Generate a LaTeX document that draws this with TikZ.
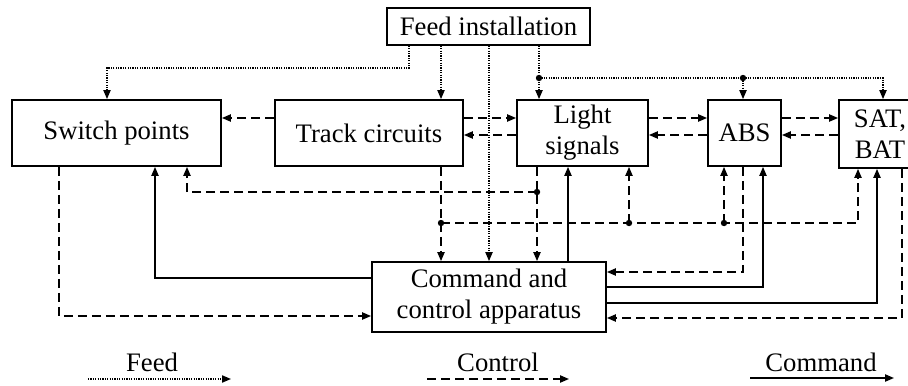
\documentclass[tikz,border=0pt]{standalone}
\usepackage{fontspec}
\setmainfont{Liberation Serif}
\usetikzlibrary{arrows.meta}
\begin{document}
\begin{tikzpicture}[x=0.5pt,y=-0.5pt,
  >={Triangle[length=4.5pt,width=3.6pt]},
  box/.style={draw,line width=0.9pt,inner sep=0pt,align=center,
    font=\fontsize{13.35}{15.5}\selectfont},
  lbl/.style={inner sep=0pt,font=\fontsize{13.35}{15.5}\selectfont},
  feedl/.style={line width=0.7pt,dash pattern=on 0.6pt off 0.6pt,->},
  ctl/.style={line width=0.8pt,dash pattern=on 4.5pt off 2.5pt,->},
  cmdl/.style={line width=0.8pt,->},
  dot/.style={circle,fill,inner sep=0pt,minimum size=3.2pt}]
\clip (0,0) rectangle (908,385);
% boxes
\node[box,minimum width=101.5pt,minimum height=18.5pt] (feed) at (488.5,26.5) {Feed installation};
\node[box,minimum width=104.5pt,minimum height=33pt] (sw) at (116.5,133) {Switch points};
\node[box,minimum width=94pt,minimum height=33pt] (tc) at (369,133) {Track circuits};
\node[box,minimum width=65.5pt,minimum height=33pt] (ls) at (582.5,133) {Light\\signals};
\node[box,minimum width=36.5pt,minimum height=33pt] (abs) at (744.5,133) {ABS};
\node[box,minimum width=41pt,minimum height=34pt] (sat) at (880,134) {SAT,\\BAT};
\node[box,minimum width=117pt,minimum height=35pt] (cmd) at (489,297) {Command and\\control apparatus};
% helper coordinates
\coordinate (fa1) at (409,68);
\coordinate (fa2) at (107,68);
\coordinate (fx) at (489,200);
\coordinate (d1) at (441,223);
\coordinate (d2) at (539,78);
\coordinate (d3) at (743,78);
\coordinate (fa3) at (883,78);
\coordinate (r1) at (0,118);
\coordinate (r2) at (0,135);
\coordinate (c1) at (59,316);
\coordinate (c2) at (155,278);
\coordinate (c3) at (187,192);
\coordinate (d4) at (537,192);
\coordinate (d5) at (629,223);
\coordinate (d6) at (724,223);
\coordinate (c4) at (858,223);
\coordinate (c5) at (568,200);
\coordinate (c6) at (743,272);
\coordinate (c7) at (763,287);
\coordinate (c8) at (877,303);
\coordinate (c9) at (902,318);
% feed lines
\draw[feedl] (feed.south -| fa1) -- (fa1) -- (fa2) -- (sw.north -| fa2);
\draw[feedl] (feed.south -| d1) -- (tc.north -| d1);
\draw[feedl] (feed.south -| fx) -- (cmd.north -| fx);
\draw[feedl] (feed.south -| d2) -- (ls.north -| d2);
\draw[feedl] (d2) -- (d3) -- (fa3) -- (sat.north -| fa3);
\draw[feedl] (d3) -- (abs.north -| d3);
% control between boxes
\draw[ctl] (tc.west |- r1) -- (sw.east |- r1);
\draw[ctl] (tc.east |- r1) -- (ls.west |- r1);
\draw[ctl] (ls.west |- r2) -- (tc.east |- r2);
\draw[ctl] (ls.east |- r1) -- (abs.west |- r1);
\draw[ctl] (abs.west |- r2) -- (ls.east |- r2);
\draw[ctl] (abs.east |- r1) -- (sat.west |- r1);
\draw[ctl] (sat.west |- r2) -- (abs.east |- r2);
% lower connections
\draw[ctl] (sw.south -| c1) -- (c1) -- (cmd.west |- c1);
\draw[cmdl] (cmd.west |- c2) -- (c2) -- (sw.south -| c2);
\draw[ctl] (ls.south -| d4) -- (cmd.north -| d4);
\draw[ctl] (d4) -- (c3) -- (sw.south -| c3);
\draw[ctl] (tc.south -| d1) -- (cmd.north -| d1);
\draw[ctl] (d1) -- (d5) -- (d6) -- (c4) -- (sat.south -| c4);
\draw[ctl] (d5) -- (ls.south -| d5);
\draw[ctl] (d6) -- (abs.south -| d6);
\draw[cmdl] (cmd.north -| c5) -- (ls.south -| c5);
\draw[ctl] (abs.south -| c6) -- (c6) -- (cmd.east |- c6);
\draw[cmdl] (cmd.east |- c7) -- (c7) -- (abs.south -| c7);
\draw[cmdl] (cmd.east |- c8) -- (c8) -- (sat.south -| c8);
\draw[ctl] (sat.south -| c9) -- (c9) -- (cmd.east |- c9);
% dots
\foreach \p in {d1,d2,d3,d4,d5,d6} \node[dot] at (\p) {};
% legend
\node[lbl,anchor=base] (lfeed) at (152,371) {Feed};
\node[lbl,anchor=base] (lctl) at (498,371) {Control};
\node[lbl,anchor=base] (lcmd) at (821,371) {Command};
\coordinate (la1) at (88,379);
\coordinate (la2) at (231,379);
\coordinate (lb1) at (427,379);
\coordinate (lb2) at (569,379);
\coordinate (lc1) at (750,378);
\coordinate (lc2) at (894,378);
\draw[feedl] (la1) -- (la2);
\draw[ctl] (lb1) -- (lb2);
\draw[cmdl] (lc1) -- (lc2);
\end{tikzpicture}
\end{document}
